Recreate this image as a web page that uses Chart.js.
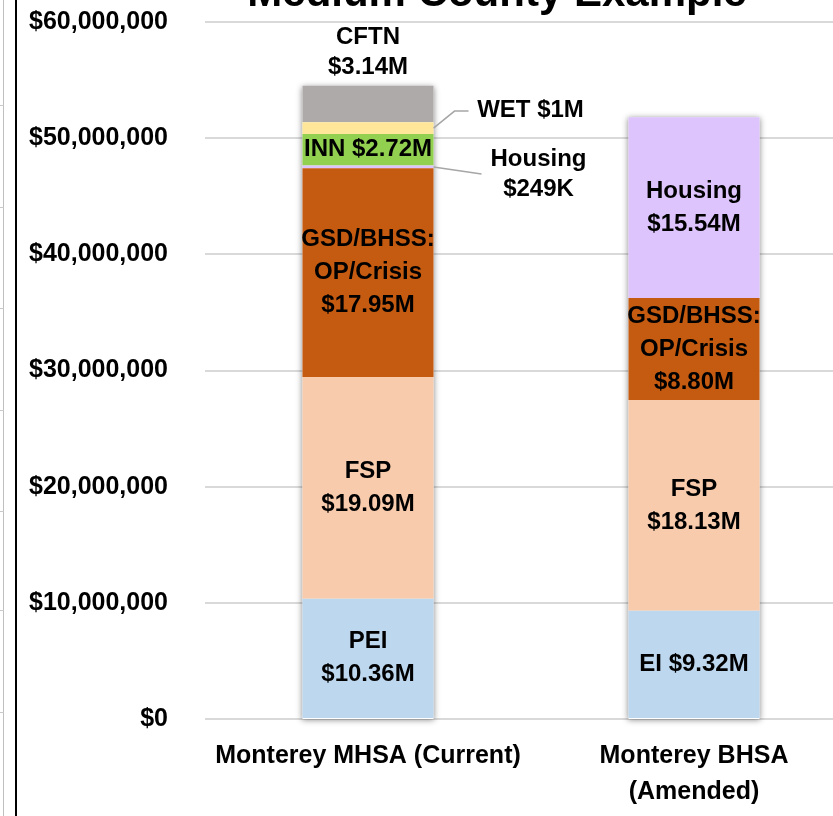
<!DOCTYPE html>
<html>
<head>
<meta charset="utf-8">
<title>Medium County Example</title>
<script src="https://cdn.jsdelivr.net/npm/chart.js@4.4.0/dist/chart.umd.min.js"></script>
<style>
    html, body { margin: 0; padding: 0; background: #fff; overflow: hidden; }
    body { width: 833px; height: 816px; position: relative; }
    .edge-gray { position: absolute; left: 3px; top: 0; width: 1px; height: 816px; background: #c0c0c0; }
    .edge-black { position: absolute; left: 15px; top: 0; width: 2px; height: 816px; background: #000; }
    .edge-tick { position: absolute; left: 0; width: 4px; height: 1px; background: #c8c8c8; }
    .chart-box { position: absolute; left: 20px; top: 0; width: 860px; height: 816px; }
</style>
</head>
<body>
<div class="edge-gray"></div>
<div class="edge-tick" style="top:105px"></div>
<div class="edge-tick" style="top:207px"></div>
<div class="edge-tick" style="top:308px"></div>
<div class="edge-tick" style="top:410px"></div>
<div class="edge-tick" style="top:511px"></div>
<div class="edge-tick" style="top:610px"></div>
<div class="edge-tick" style="top:712px"></div>
<div class="edge-black"></div>
<div class="chart-box"><canvas id="fundingChart"></canvas></div>

<script>
// data
const categories = ['Monterey MHSA (Current)', ['Monterey BHSA', '(Amended)']];
const seriesNames = ['PEI / EI', 'FSP', 'GSD/BHSS: OP/Crisis', 'Housing', 'INN', 'WET', 'CFTN'];
const currentValues = [10360000, 19090000, 17950000, 249000, 2720000, 1000000, 3140000];
const amendedValues = [9320000, 18130000, 8800000, 15540000, null, null, null];
const seriesColors = ['#BDD7EE', '#F8CBAD', '#C55A11', '#DEC4FC', '#92D050', '#FFE699', '#AEAAAA'];
const yTickValues = [0, 10000000, 20000000, 30000000, 40000000, 50000000, 60000000];

// segment labels, one list per bar (same order as the series)
const currentLabels = [
    ['PEI', '$10.36M'],
    ['FSP', '$19.09M'],
    ['GSD/BHSS:', 'OP/Crisis', '$17.95M'],
    ['Housing', '$249K'],
    ['INN $2.72M'],
    ['WET $1M'],
    ['CFTN', '$3.14M']
];
const amendedLabels = [
    ['EI $9.32M'],
    ['FSP', '$18.13M'],
    ['GSD/BHSS:', 'OP/Crisis', '$8.80M'],
    ['Housing', '$15.54M'],
    null, null, null
];
const currentPlacement = ['in', 'in', 'in', 'callout-low', 'in', 'callout-high', 'top'];
const amendedPlacement = ['in', 'in', 'in', 'in', null, null, null];

const FONT = "'Liberation Sans', Arial, sans-serif";

document.addEventListener('DOMContentLoaded', function() {
    initChart();
});

function drawLines(ctx, lines, cx, cy, lh) {
    const first = cy - (lines.length - 1) * lh / 2;
    lines.forEach((t, k) => ctx.fillText(t, cx, first + k * lh));
}

// soft shadow round each whole stack, drawn before the bars
const stackShadow = {
    id: 'stackShadow',
    beforeDatasetsDraw(chart) {
        const ctx = chart.ctx;
        const base = chart.scales.y.getPixelForValue(0);
        categories.forEach((c, j) => {
            let top = base, x = null, w = 0;
            chart.data.datasets.forEach((ds, i) => {
                if (ds.data[j] == null) return;
                const bar = chart.getDatasetMeta(i).data[j];
                top = Math.min(top, bar.y);
                x = bar.x; w = bar.width;
            });
            if (x === null) return;
            ctx.save();
            ctx.shadowColor = 'rgba(0,0,0,0.45)';
            ctx.shadowBlur = 6;
            ctx.shadowOffsetY = 1;
            ctx.fillStyle = '#fff';
            ctx.fillRect(x - w / 2, top, w, base - top);
            ctx.restore();
        });
    }
};

const segmentLabels = {
    id: 'segmentLabels',
    afterDatasetsDraw(chart) {
        const ctx = chart.ctx;
        const textSets = [currentLabels, amendedLabels];
        const placeSets = [currentPlacement, amendedPlacement];
        ctx.save();
        ctx.font = 'bold 24px ' + FONT;
        ctx.fillStyle = '#000';
        ctx.textAlign = 'center';
        ctx.textBaseline = 'middle';
        ctx.strokeStyle = '#a6a6a6';
        ctx.lineWidth = 1.5;
        chart.data.datasets.forEach((ds, i) => {
            chart.getDatasetMeta(i).data.forEach((bar, j) => {
                const lines = textSets[j][i];
                const place = placeSets[j][i];
                if (!lines || ds.data[j] == null) return;
                const mid = (bar.y + bar.base) / 2;
                const right = bar.x + bar.width / 2;
                if (place === 'in') {
                    drawLines(ctx, lines, bar.x, mid, 33);
                } else if (place === 'top') {
                    drawLines(ctx, lines, bar.x, bar.y - 18 - (lines.length - 1) * 15, 30);
                } else if (place === 'callout-high') {
                    ctx.beginPath();
                    ctx.moveTo(right, mid);
                    ctx.lineTo(right + 21, mid - 17);
                    ctx.lineTo(right + 35, mid - 17);
                    ctx.stroke();
                    drawLines(ctx, lines, right + 97, mid - 18, 30);
                } else if (place === 'callout-low') {
                    ctx.beginPath();
                    ctx.moveTo(right, mid);
                    ctx.lineTo(right + 48, mid + 7);
                    ctx.stroke();
                    drawLines(ctx, lines, right + 105, mid + 7, 30);
                }
            });
        });
        ctx.restore();
    }
};

// chart title, mostly cut off by the top edge as in the reference
const headTitle = {
    id: 'headTitle',
    afterDraw(chart) {
        const ctx = chart.ctx;
        const a = chart.chartArea;
        ctx.save();
        ctx.font = 'bold 42px ' + FONT;
        ctx.fillStyle = '#000';
        ctx.textAlign = 'center';
        ctx.textBaseline = 'alphabetic';
        ctx.fillText('Medium County Example', (a.left + a.right) / 2 - 34, a.top - 16);
        ctx.restore();
    }
};

function initChart() {
    const datasets = seriesNames.map((name, i) => ({
        label: name,
        data: [currentValues[i], amendedValues[i]],
        backgroundColor: seriesColors[i],
        borderWidth: 0,
        barPercentage: 0.402,
        categoryPercentage: 1.0
    }));

    new Chart(document.getElementById('fundingChart'), {
        type: 'bar',
        data: { labels: categories, datasets: datasets },
        options: {
            responsive: true,
            maintainAspectRatio: false,
            animation: false,
            layout: { padding: { top: 22, right: 23, bottom: 6, left: 0 } },
            plugins: {
                legend: { display: false },
                tooltip: { enabled: false }
            },
            scales: {
                x: {
                    stacked: true,
                    grid: { display: false, drawTicks: false },
                    border: { display: false },
                    afterFit: s => {
                        s.height = 91;
                        s.paddingLeft = 0;
                        s.paddingRight = 0;
                    },
                    ticks: {
                        color: '#000',
                        padding: 19,
                        maxRotation: 0,
                        autoSkip: false,
                        font: { family: FONT, size: 25, weight: 'bold', lineHeight: 1.44 }
                    }
                },
                y: {
                    stacked: true,
                    min: 0,
                    max: 60000000,
                    afterFit: s => {
                        s.width = 185;
                        s.paddingTop = 0;
                        s.paddingBottom = 0;
                    },
                    afterBuildTicks: s => { s.ticks = yTickValues.map(v => ({ value: v })); },
                    grid: { color: '#d9d9d9', lineWidth: 2, drawTicks: false },
                    border: { display: false },
                    ticks: {
                        color: '#000',
                        padding: 37,
                        font: { family: FONT, size: 25, weight: 'bold' },
                        callback: v => '$' + Number(v).toLocaleString('en-US')
                    }
                }
            }
        },
        plugins: [stackShadow, segmentLabels, headTitle]
    });
}
</script>
</body>
</html>
